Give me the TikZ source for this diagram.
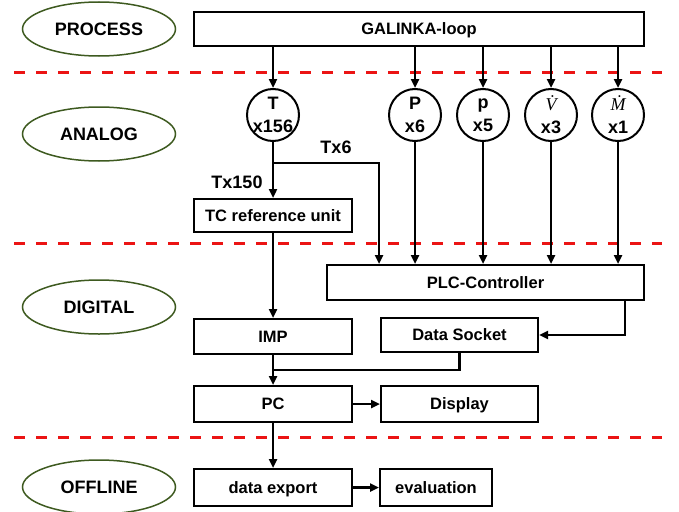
\documentclass[tikz,border=0pt]{standalone}
\usepackage{fontspec}
\setmainfont{Liberation Sans}
\newfontfamily\flowserif{Liberation Serif}
\usetikzlibrary{arrows.meta,calc,shapes.geometric}
\definecolor{layergreen}{RGB}{62,90,32}
\definecolor{layerred}{RGB}{235,20,20}
\begin{document}
\begin{tikzpicture}[x=1pt,y=-1pt,
  font=\bfseries,
  layer/.style={ellipse,draw=layergreen,line width=1.5pt,minimum width=153pt,minimum height=54pt,inner sep=0pt,text height=13pt,text depth=0pt,font=\fontsize{18}{20}\selectfont\bfseries},
  unit/.style={rectangle,draw,line width=2pt,inner sep=0pt,text height=11pt,text depth=0pt,font=\fontsize{16.5}{18}\selectfont\bfseries},
  sensor/.style={circle,draw,line width=2pt,minimum size=52pt,inner sep=0pt},
  sensortext/.style={align=center,inner sep=0pt,font=\fontsize{18}{23}\selectfont\bfseries},
  tag/.style={inner sep=0pt,font=\fontsize{18}{20}\selectfont\bfseries},
  conn/.style={line width=2.3pt,-{Triangle[length=9pt,width=8pt]}},
  wire/.style={line width=2.3pt},
  divider/.style={draw=layerred,line width=3pt,dash pattern=on 11pt off 11pt}
]
\useasboundingbox (0,0) rectangle (679,511);

% layer separators
\draw[divider] (14,72) -- (662,72);
\draw[divider] (14,243) -- (662,243);
\draw[divider] (14,437) -- (662,437);

% layer labels
\node[layer] (lp) at (99,29) {PROCESS};
\node[layer] (la) at (99,134) {ANALOG};
\node[layer] (ld) at (99,307) {DIGITAL};
\node[layer] (lo) at (99,487) {OFFLINE};

% process
\node[unit,minimum width=450pt,minimum height=34pt] (gal) at (419,29) {GALINKA-loop};

% sensors
\node[sensor] (cT) at (273,115) {};
\node[sensortext] at (cT) {T\\x156};
\node[sensor] (cP) at (415,115) {};
\node[sensortext] at (cP) {P\\x6};
\node[sensor] (cp) at (483,115) {};
\node[sensortext] at (cp) {p\\x5};
\node[sensor] (cV) at (551,115) {};
\node[sensortext] at (cV) {{\flowserif\mdseries\itshape V^^^^0307}\\x3};
\node[sensor] (cM) at (618,115) {};
\node[sensortext] at (cM) {{\flowserif\mdseries\itshape M^^^^0307}\\x1};

% units
\node[unit,minimum width=158pt,minimum height=33pt] (tc) at (273,215.5) {TC reference unit};
\node[unit,minimum width=317pt,minimum height=35pt] (plc) at (485.5,282.5) {PLC-Controller};
\node[unit,minimum width=158pt,minimum height=35pt] (imp) at (273,336.5) {IMP};
\node[unit,minimum width=157pt,minimum height=34pt] (ds) at (459.5,335) {Data Socket};
\node[unit,minimum width=158pt,minimum height=36pt] (pc) at (273,404) {PC};
\node[unit,minimum width=157pt,minimum height=36pt] (disp) at (459.5,404) {Display};
\node[unit,minimum width=158pt,minimum height=37pt] (exp) at (273,487.5) {data export};
\node[unit,minimum width=112pt,minimum height=37pt] (eval) at (436,487.5) {evaluation};

% channel labels
\node[tag] (t150) at (237,182) {Tx150};
\node[tag] (t6) at (336,147) {Tx6};

% process to sensors
\foreach \s in {cT,cP,cp,cV,cM}
  \draw[conn] (gal.south -| \s) -- (\s.north);

% temperature split
\coordinate (split) at (273,163);
\draw[conn] (cT.south) -- (tc.north);
\draw[conn] (split) -| ([xshift=53pt]plc.north west);

% sensors to PLC
\foreach \s in {cP,cp,cV,cM}
  \draw[conn] (\s.south) -- (plc.north -| \s);

% digital chain
\draw[conn] (tc.south) -- (imp.north);
\coordinate (merge) at ($(imp.south)!0.5!(pc.north)$);
\draw[conn] (imp.south) -- (pc.north);
\draw[wire] (ds.south) |- (merge);
\draw[conn] ([xshift=-20pt]plc.south east) |- (ds.east);
\draw[conn] (pc.east) -- (disp.west);

% offline
\draw[conn] (pc.south) -- (exp.north);
\draw[conn] (exp.east) -- (eval.west);
\end{tikzpicture}
\end{document}
